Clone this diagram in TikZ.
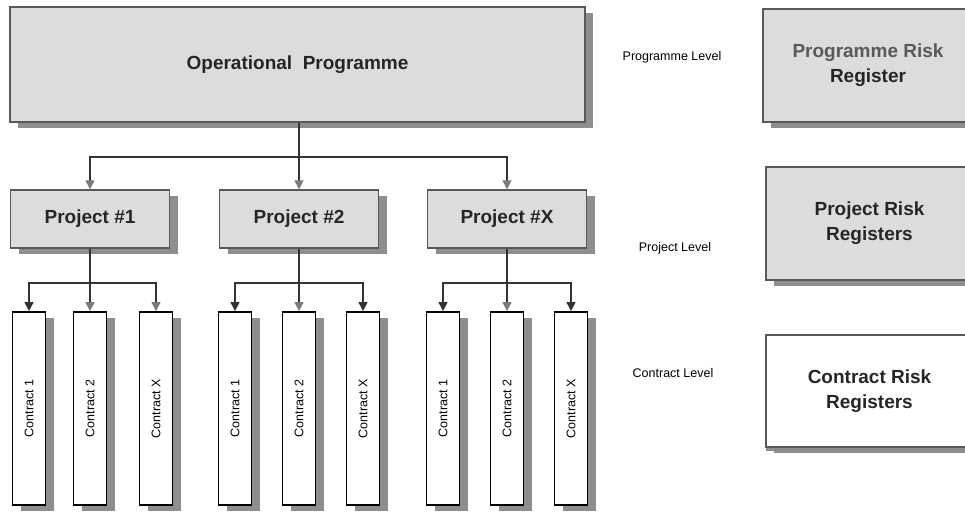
\documentclass[tikz,border=0pt]{standalone}
\usepackage{fontspec}
\setmainfont{Liberation Sans}
\usetikzlibrary{arrows.meta,shadows}
\definecolor{boxgray}{HTML}{DCDCDC}
\definecolor{shadegray}{HTML}{8E8E8E}
\definecolor{linkgray}{HTML}{7A7A7A}

\begin{document}
\begin{tikzpicture}[x=1pt,y=1pt,>={Triangle[width=9pt,length=9pt]},
  graybox/.style={draw=black!65, line width=1.4pt, fill=boxgray, align=center, text=black!85,
    font=\bfseries\fontsize{19}{25}\selectfont,
    drop shadow={shadow xshift=8pt,shadow yshift=-6pt,fill=shadegray,opacity=1}},
  contbox/.style={draw=black, line width=1.8pt, fill=white, inner sep=0pt,
    minimum width=33pt, minimum height=193pt, font=\fontsize{12.5}{15}\selectfont,
    drop shadow={shadow xshift=8pt,shadow yshift=-6pt,fill=shadegray,opacity=1}},
  levellabel/.style={font=\fontsize{12.5}{15}\selectfont, inner sep=0pt},
  link/.style={draw=black!80, line width=1.2pt},
  linkg/.style={draw=black!80, line width=1.2pt, -{Triangle[width=9pt,length=9pt,color=linkgray,fill=linkgray]}}]
\useasboundingbox (0,0) rectangle (965,-513);

% main tree
\node[graybox, minimum width=575pt, minimum height=115pt] (top) at (297.5,-64.5) {Operational\ \ Programme};
\node[graybox, minimum width=159pt, minimum height=58pt] (p1) at (90,-219) {Project \#1};
\node[graybox, minimum width=159pt, minimum height=58pt] (p2) at (299,-219) {Project \#2};
\node[graybox, minimum width=159pt, minimum height=58pt] (px) at (507,-219) {Project \#X};

\node[contbox] (c11) at (29,-408.5) {\rotatebox{90}{Contract 1}};
\node[contbox] (c12) at (90,-408.5) {\rotatebox{90}{Contract 2}};
\node[contbox] (c1x) at (156,-408.5) {\rotatebox{90}{Contract X}};
\node[contbox] (c21) at (235,-408.5) {\rotatebox{90}{Contract 1}};
\node[contbox] (c22) at (299,-408.5) {\rotatebox{90}{Contract 2}};
\node[contbox] (c2x) at (363,-408.5) {\rotatebox{90}{Contract X}};
\node[contbox] (c31) at (443,-408.5) {\rotatebox{90}{Contract 1}};
\node[contbox] (c32) at (507,-408.5) {\rotatebox{90}{Contract 2}};
\node[contbox] (c3x) at (571,-408.5) {\rotatebox{90}{Contract X}};

% connectors
\coordinate (topbar) at (299,-157);
\draw[link] (top.south -| topbar) -- (topbar);
\draw[linkg] (topbar) -| (p1);
\draw[linkg] (topbar) -- (p2);
\draw[linkg] (topbar) -| (px);

\coordinate (bar1) at (90,-283);
\draw[link] (p1) -- (bar1);
\draw[link,->] (bar1) -| (c11);
\draw[linkg] (bar1) -- (c12);
\draw[linkg] (bar1) -| (c1x);

\coordinate (bar2) at (299,-283);
\draw[link] (p2) -- (bar2);
\draw[link,->] (bar2) -| (c21);
\draw[linkg] (bar2) -- (c22);
\draw[link,->] (bar2) -| (c2x);

\coordinate (bar3) at (507,-283);
\draw[link] (px) -- (bar3);
\draw[link,->] (bar3) -| (c31);
\draw[linkg] (bar3) -- (c32);
\draw[link,->] (bar3) -| (c3x);

% levels and registers
\node[levellabel] (lprog) at (672,-57) {Programme Level};
\node[levellabel] (lproj) at (675,-248) {Project Level};
\node[levellabel] (lcont) at (673,-373) {Contract Level};

\node[graybox, minimum width=210pt, minimum height=113pt] (rprog) at (868,-65.5) {\textcolor{black!65}{Programme Risk}\\Register};
\node[graybox, minimum width=207pt, minimum height=113pt] (rproj) at (869.5,-223.5) {Project Risk\\Registers};
\node[graybox, fill=white, minimum width=207pt, minimum height=112pt,
  drop shadow={shadow xshift=0pt,shadow yshift=-4pt,fill=shadegray,opacity=1}] (rcont) at (869.5,-391) {Contract Risk\\Registers};
\end{tikzpicture}
\end{document}
